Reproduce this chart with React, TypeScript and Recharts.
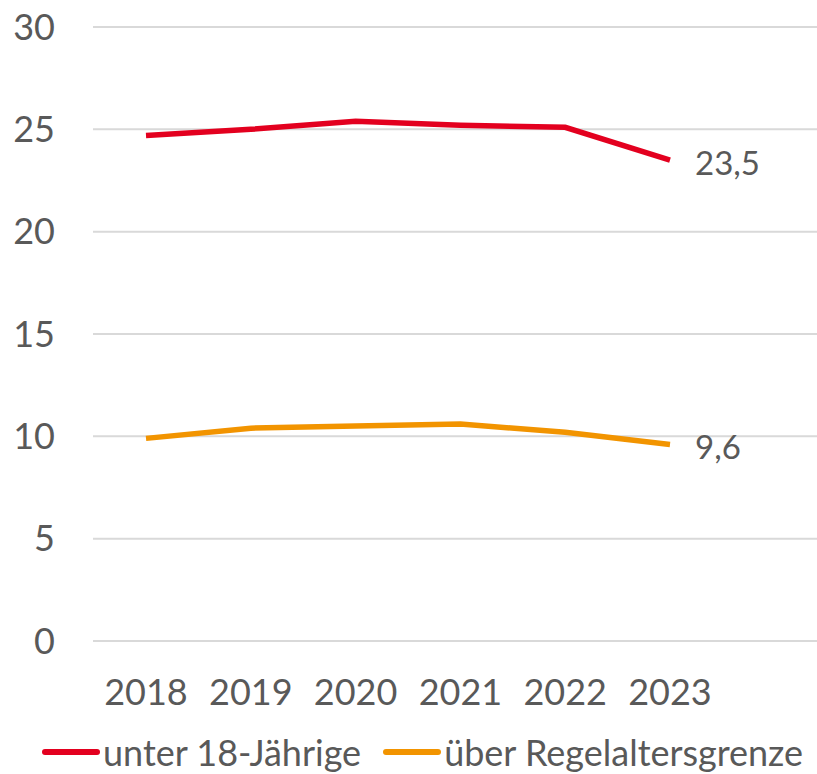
import React from "react";
import { LineChart, Line, XAxis, YAxis, CartesianGrid, LabelList } from "recharts";

const years = ["2018", "2019", "2020", "2021", "2022", "2023"];
const unter18 = [24.7, 25.0, 25.4, 25.2, 25.1, 23.5];
const ueberRegel = [9.9, 10.4, 10.5, 10.6, 10.2, 9.6];
const yTicks = [0, 5, 10, 15, 20, 25, 30];
const seriesNames = ["unter 18-Jährige", "über Regelaltersgrenze"];
const seriesColors = ["#E3001F", "#F29400"];

const data = years.map((y, i) => ({ year: y, a: unter18[i], b: ueberRegel[i] }));

const FONT = "Lato, 'Liberation Sans', sans-serif";
const TEXT = "#595959";

const lastLabel = (props: any) => {
  const { x, y, value, index } = props;
  if (index !== years.length - 1) return null;
  return (
    <text x={x + 25} y={y + 3} dy="0.35em" fill={TEXT} fontSize={33} fontFamily={FONT}>
      {String(value).replace(".", ",")}
    </text>
  );
};

const LegendBlock = () => (
  <div style={{ position: "absolute", left: 40, top: 729, display: "flex", alignItems: "center", fontFamily: FONT, fontSize: 36, color: TEXT, whiteSpace: "nowrap", lineHeight: "46px" }}>
    {seriesNames.map((n, i) => (
      <div key={n} style={{ display: "flex", alignItems: "center", marginRight: i === 0 ? 20 : 0 }}>
        <svg width={60} height={10} style={{ marginRight: 3 }}>
          <line x1={5} y1={5} x2={57} y2={5} stroke={seriesColors[i]} strokeWidth={6} strokeLinecap="round" />
        </svg>
        <span>{n}</span>
      </div>
    ))}
  </div>
);

export default function App() {
  return (
    <div style={{ position: "absolute", left: 0, top: 0, width: 817, height: 774, background: "#fff", overflow: "hidden" }}>
      <LineChart width={817} height={774} data={data} margin={{ top: 27, right: 0, left: 0, bottom: 53 }}>
        <CartesianGrid vertical={false} stroke="#d9d9d9" strokeWidth={2} />
        <XAxis
          dataKey="year"
          axisLine={false}
          tickLine={false}
          tickSize={0}
          tickMargin={38}
          padding={{ left: 53, right: 147 }}
          tick={{ fill: TEXT, fontSize: 36, fontFamily: FONT }}
          height={80}
        />
        <YAxis
          domain={[0, 30]}
          ticks={yTicks}
          axisLine={false}
          tickLine={false}
          tickSize={0}
          tickMargin={38}
          width={93}
          tick={{ fill: TEXT, fontSize: 36, fontFamily: FONT }}
        />
        <Line type="linear" dataKey="a" name={seriesNames[0]} stroke={seriesColors[0]} strokeWidth={5.5} dot={false} isAnimationActive={false}>
          <LabelList dataKey="a" content={lastLabel} />
        </Line>
        <Line type="linear" dataKey="b" name={seriesNames[1]} stroke={seriesColors[1]} strokeWidth={5.5} dot={false} isAnimationActive={false}>
          <LabelList dataKey="b" content={lastLabel} />
        </Line>
      </LineChart>
      <LegendBlock />
    </div>
  );
}
